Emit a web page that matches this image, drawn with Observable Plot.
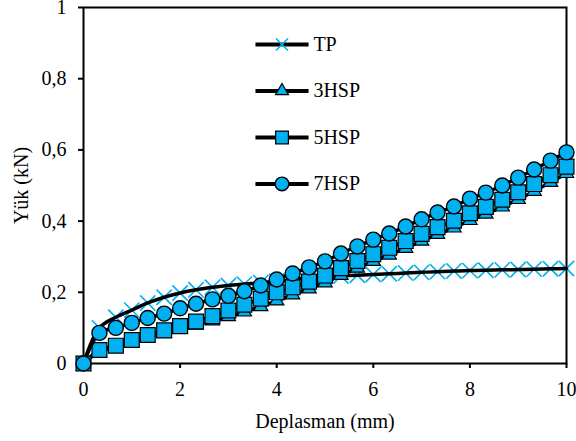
<!DOCTYPE html>
<html><head><meta charset="utf-8">
<script src="https://cdn.jsdelivr.net/npm/d3@7"></script>
<script src="https://cdn.jsdelivr.net/npm/@observablehq/plot@0.6"></script>
<style>body{margin:0;background:#fff}</style>
</head><body><div id="chart"></div>
<script>
// ---- data ----
const displacement = [0,0.33,0.67,1,1.33,1.67,2,2.33,2.67,3,3.33,3.67,4,4.33,4.67,5,5.33,5.67,6,6.33,6.67,7,7.33,7.67,8,8.33,8.67,9,9.33,9.67,10];
const loadTP   = [0,0.1,0.13,0.15,0.17,0.186,0.198,0.207,0.214,0.219,0.223,0.227,0.231,0.236,0.24,0.244,0.246,0.248,0.25,0.252,0.254,0.256,0.258,0.26,0.261,0.262,0.263,0.264,0.265,0.266,0.267];
const load3HSP = [0,0.033,0.046,0.06,0.073,0.085,0.097,0.108,0.12,0.132,0.145,0.16,0.176,0.193,0.21,0.227,0.248,0.268,0.287,0.305,0.324,0.344,0.363,0.381,0.402,0.42,0.44,0.461,0.484,0.509,0.534];
const load5HSP = [0,0.038,0.05,0.066,0.08,0.093,0.105,0.118,0.133,0.149,0.165,0.182,0.2,0.214,0.23,0.247,0.268,0.288,0.307,0.325,0.344,0.364,0.383,0.401,0.422,0.44,0.46,0.481,0.504,0.529,0.553];
const load7HSP = [0,0.086,0.1,0.114,0.128,0.14,0.155,0.168,0.18,0.19,0.203,0.219,0.236,0.253,0.27,0.287,0.309,0.329,0.348,0.365,0.385,0.405,0.424,0.441,0.463,0.48,0.5,0.522,0.545,0.57,0.593];
const seriesNames = ["TP","3HSP","5HSP","7HSP"];
const xTicks = [0,2,4,6,8,10];
const xTickLabels = ["0","2","4","6","8","10"];
const yTicks = [0,0.2,0.4,0.6,0.8,1];
const yTickLabels = ["0","0,2","0,4","0,6","0,8","1"];
const xLabel = "Deplasman (mm)";
const yLabel = "Yük (kN)";

// ---- build tables ----
const loads = [loadTP, load3HSP, load5HSP, load7HSP];
const rows = seriesNames.map((name, s) => displacement.map((d, i) => ({series: name, x: d, y: loads[s][i]})));

const BLUE = "#00b0f0";
const styles = {
  "TP":   {symbol: "times",    r: 7,   rLeg: 5.5, fill: "none", stroke: BLUE,   strokeWidth: 1.6},
  "3HSP": {symbol: "triangle", r: 5.3, rLeg: 4.8, fill: BLUE,   stroke: "black", strokeWidth: 1.2},
  "5HSP": {symbol: "square",   r: 8.4, rLeg: 7.2, fill: BLUE,   stroke: "black", strokeWidth: 1.2},
  "7HSP": {symbol: "circle",   r: 7.5, rLeg: 6.8, fill: BLUE,   stroke: "black", strokeWidth: 1.4}
};

// legend layout (in data units of the plot)
const legX0 = 3.56, legX1 = 4.66, legXm = 4.11, legXt = 4.76;
const legY0 = 0.896, legStep = 0.1305;
const legendRows = seriesNames.map((name, i) => ({name, y: legY0 - i * legStep}));

const marks = [];
seriesNames.forEach((name, s) => {
  const st = styles[name];
  const line = Plot.line(rows[s], {x: "x", y: "y", stroke: "black", strokeWidth: 3.5, curve: "catmull-rom"});
  const dots = Plot.dot(rows[s], {x: "x", y: "y", symbol: st.symbol, r: st.r, fill: st.fill, stroke: st.stroke, strokeWidth: st.strokeWidth});
  if (name === "TP") marks.push(dots, line); else marks.push(line, dots);
});
// legend
marks.push(Plot.link(legendRows, {x1: () => legX0, x2: () => legX1, y1: "y", y2: "y", stroke: "black", strokeWidth: 4}));
seriesNames.forEach((name, i) => {
  const st = styles[name];
  marks.push(Plot.dot([legendRows[i]], {x: () => legXm, y: "y", symbol: st.symbol, r: st.rLeg, fill: st.fill, stroke: st.stroke, strokeWidth: st.strokeWidth}));
});
marks.push(Plot.text(legendRows, {x: () => legXt, y: "y", text: "name", textAnchor: "start", fontSize: 20, fill: "black"}));

const chart = Plot.plot({
  width: 576, height: 441,
  marginLeft: 83, marginRight: 10, marginTop: 7, marginBottom: 78,
  style: {fontFamily: "'Liberation Serif','Times New Roman',serif", fontSize: "20px", color: "black", background: "white"},
  x: {domain: [0, 10], nice: false},
  y: {domain: [0, 1], nice: false},
  marks: [
    Plot.frame({stroke: "black", strokeWidth: 2}),
    Plot.axisX({ticks: xTicks, tickFormat: (d) => xTickLabels[xTicks.indexOf(d)], tickSize: 5, tickPadding: 13, strokeWidth: 2, fontSize: 20,
                label: xLabel, labelAnchor: "center", labelOffset: 64, labelArrow: "none"}),
    Plot.axisY({ticks: yTicks, tickFormat: (d) => yTickLabels[yTicks.indexOf(d)], tickSize: 5, tickPadding: 12, strokeWidth: 2, fontSize: 20,
                label: yLabel, labelAnchor: "center", labelOffset: 70, labelArrow: "none"}),
    ...marks
  ]
});
document.getElementById("chart").appendChild(chart);
</script>
</body></html>
